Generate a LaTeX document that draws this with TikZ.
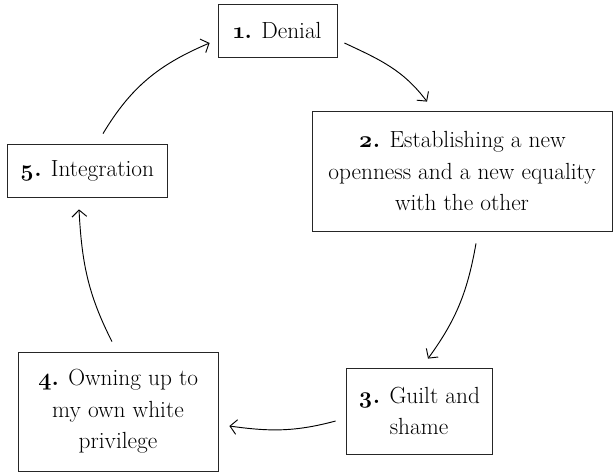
\documentclass[tikz,border=0pt]{standalone}
\usepackage{fontspec}
\setmainfont{Latin Modern Roman}[Numbers=OldStyle]
\usetikzlibrary{arrows.meta}

\begin{document}
\begin{tikzpicture}[x=0.75pt, y=-0.75pt, >={Straight Barb[length=5pt, width=11pt]},
                    stage/.style={draw=black!85, line width=0.6pt, align=center,
                                  inner sep=0pt, font=\fontsize{17.5}{23.6}\selectfont},
                    link/.style={->, line width=0.7pt}]

  \useasboundingbox (0,0) rectangle (613,472);

  %% the five stages
  \node[stage, minimum width=89.25pt, minimum height=39.75pt] (denial) at (277.5,30.5)
    {\textbf{1.} Denial};
  \node[stage, minimum width=225pt, minimum height=90pt] (openness) at (462,171)
    {\textbf{2.} Establishing a new\\openness and a new equality\\with the other};
  \node[stage, minimum width=109.5pt, minimum height=64.5pt] (guilt) at (419,411)
    {\textbf{3.} Guilt and\\shame};
  \node[stage, minimum width=150pt, minimum height=89.25pt] (owning) at (118,411.5)
    {\textbf{4.} Owning up to\\my own white\\privilege};
  \node[stage, minimum width=120pt, minimum height=39.75pt] (integration) at (87,170.5)
    {\textbf{5.} Integration};

  %% the cycle
  \draw[link] ([shift={(7,12.5)}]denial.east) to[out=-25, in=127]
    ([shift={(-35,-9)}]openness.north);
  \draw[link] ([shift={(14,12)}]openness.south) to[out=-100, in=54]
    ([shift={(9,-9)}]guilt.north);
  \draw[link] ([shift={(-10,10)}]guilt.west) to[out=195, in=-8]
    ([shift={(11,14.5)}]owning.east);
  \draw[link] ([shift={(-6,-10)}]owning.north) to[out=117, in=-87]
    ([shift={(-8,12)}]integration.south);
  \draw[link] ([shift={(16,-10)}]integration.north) to[out=59, in=203]
    ([shift={(-8,12.5)}]denial.west);

\end{tikzpicture}
\end{document}
